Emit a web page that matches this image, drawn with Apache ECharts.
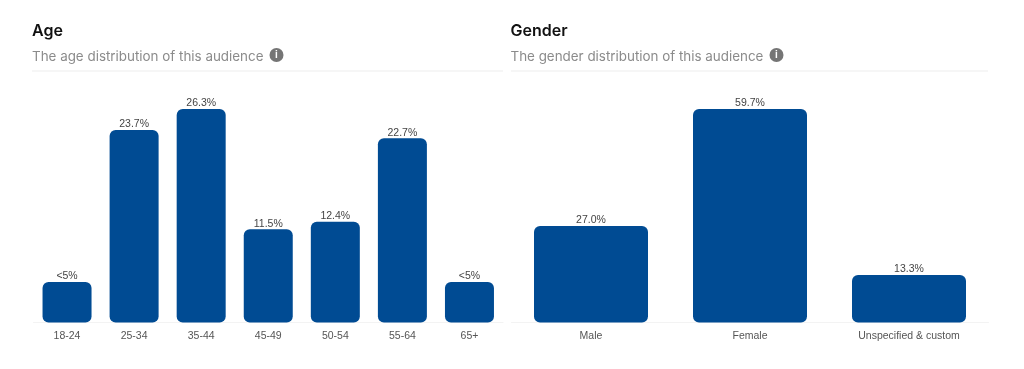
<!DOCTYPE html>
<html>
<head>
<meta charset="utf-8">
<style>
  html, body { margin: 0; padding: 0; background: #fff; }
  #chart { width: 1024px; height: 369px; }
</style>
<script src="https://cdn.jsdelivr.net/npm/echarts@6/dist/echarts.min.js"></script>
</head>
<body>
<div id="chart"></div>
<script>
const ageCategories = ['18-24', '25-34', '35-44', '45-49', '50-54', '55-64', '65+'];
const ageValues = [5, 23.7, 26.3, 11.5, 12.4, 22.7, 5];
const ageLabels = ['<5%', '23.7%', '26.3%', '11.5%', '12.4%', '22.7%', '<5%'];

const genderCategories = ['Male', 'Female', 'Unspecified & custom'];
const genderValues = [27.0, 59.7, 13.3];
const genderLabels = ['27.0%', '59.7%', '13.3%'];

const BAR_COLOR = '#004b93';
const SANS = '"Liberation Sans", Arial, sans-serif';
const HEAD = 'Inter, "Liberation Sans", sans-serif';

function headerTitles(x, title, sub) {
  return [
    { text: title, left: x, top: 23, padding: 0,
      textStyle: { fontFamily: HEAD, fontSize: 16, fontWeight: 600, color: '#111' } },
    { text: sub, left: x, top: 50, padding: 0,
      textStyle: { fontFamily: HEAD, fontSize: 13.4, fontWeight: 400, color: '#8b8b8b' } }
  ];
}

function infoIcon(cx) {
  return [
    { type: 'circle', shape: { cx: cx, cy: 55, r: 7 }, style: { fill: '#757575' } },
    { type: 'text', x: cx, y: 55, style: {
        text: 'i', fill: '#fff', font: 'bold 10px ' + SANS, align: 'center', verticalAlign: 'middle' } }
  ];
}

function divider(x1, x2) {
  return { type: 'line', shape: { x1: x1, y1: 71, x2: x2, y2: 71 },
    style: { stroke: '#ededed', lineWidth: 1 } };
}

function barSeries(idx, values, labels, width) {
  return {
    type: 'bar',
    xAxisIndex: idx,
    yAxisIndex: idx,
    data: values,
    barWidth: width,
    itemStyle: { color: BAR_COLOR, borderRadius: 6 },
    label: {
      show: true,
      position: 'top',
      distance: 0,
      fontFamily: SANS,
      fontSize: 10.5,
      color: '#444',
      formatter: p => labels[p.dataIndex]
    },
    silent: true
  };
}

function catAxis(idx, categories) {
  return {
    type: 'category',
    gridIndex: idx,
    data: categories,
    axisTick: { show: false },
    axisLine: { lineStyle: { color: '#f3f3f3', width: 1 } },
    axisLabel: { fontFamily: SANS, fontSize: 10.5, color: '#555', margin: 8, interval: 0 }
  };
}

function valAxis(idx, max) {
  return { type: 'value', gridIndex: idx, min: 0, max: max, show: false, splitLine: { show: false } };
}

const chart = echarts.init(document.getElementById('chart'), null, { renderer: 'canvas' });
chart.setOption({
  animation: false,
  backgroundColor: '#fff',
  title: [
    ...headerTitles(32, 'Age', 'The age distribution of this audience'),
    ...headerTitles(510.5, 'Gender', 'The gender distribution of this audience')
  ],
  grid: [
    { left: 33.5, width: 469.5, top: 109, height: 213.5 },
    { left: 511.5, width: 477, top: 109, height: 213.5 }
  ],
  xAxis: [catAxis(0, ageCategories), catAxis(1, genderCategories)],
  yAxis: [valAxis(0, 26.3), valAxis(1, 59.7)],
  series: [
    barSeries(0, ageValues, ageLabels, 49),
    barSeries(1, genderValues, genderLabels, 114)
  ],
  graphic: [
    divider(32, 503),
    divider(511, 988),
    ...infoIcon(276.5),
    ...infoIcon(776.5)
  ]
});
</script>
</body>
</html>
